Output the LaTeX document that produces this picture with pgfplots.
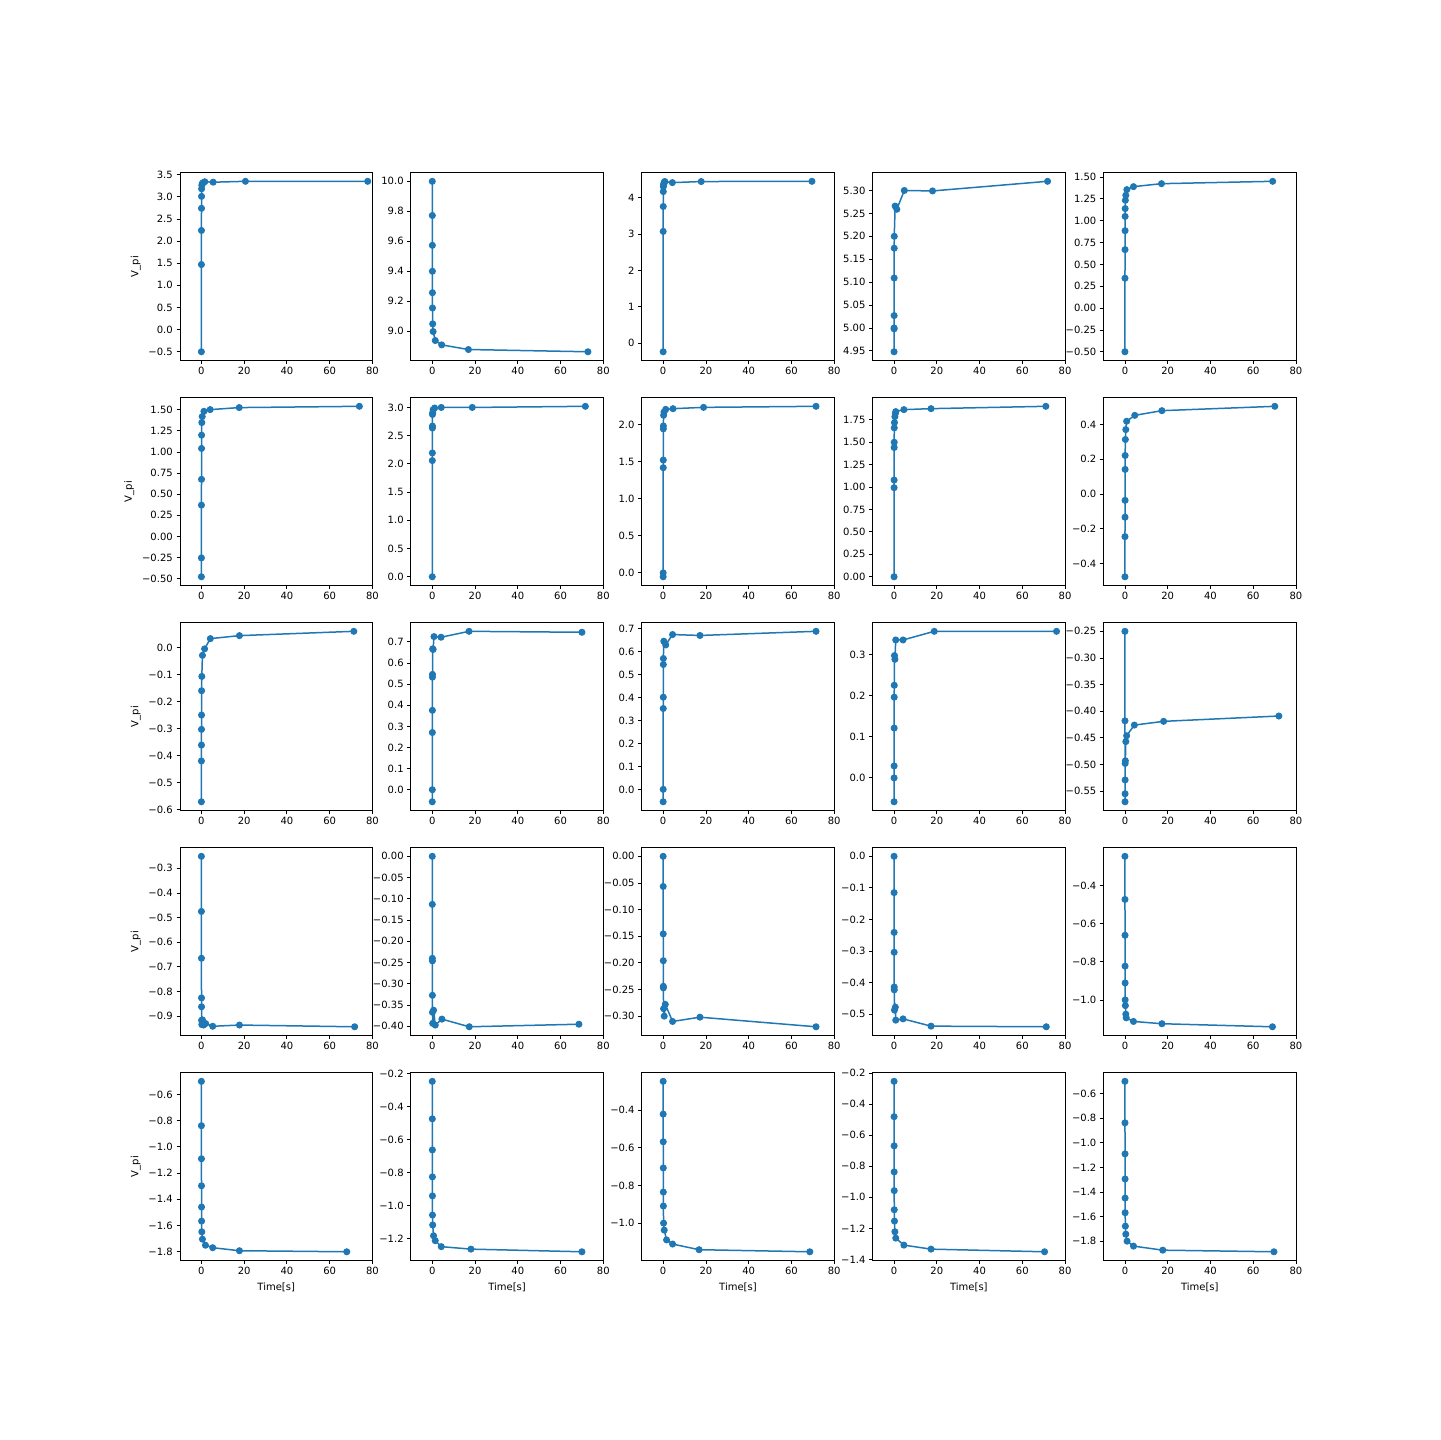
\documentclass[border=0pt]{standalone}
\usepackage{fontspec}
\setmainfont{DejaVu Sans}
\usepackage{pgfplots}
\pgfplotsset{compat=1.18}
\definecolor{c0}{RGB}{31,119,180}
\pgfplotsset{
  sub/.style={
    anchor=north west, scale only axis, width=138.54pt, height=135pt,
    xmin=-10, xmax=80, xtick={0,20,40,60,80}, xticklabels={0,20,40,60,80},
    enlarge y limits=0.05,
    axis line style={line width=0.576pt},
    every tick/.style={line width=0.576pt, black},
    tick align=outside, tick pos=left, major tick length=2.52pt,
    tick label style={font=\fontsize{7.2}{8.64}\selectfont, inner sep=2.5pt},
    label style={font=\fontsize{7.2}{8.64}\selectfont},
    ylabel style={inner sep=2.9pt},
    xlabel style={inner sep=2.9pt},
    /pgf/number format/assume math mode=true,
  },
}
\newcommand{\pan}[6]{%
  \begin{axis}[sub, at={(#1,#2)}, ytick={#3}, yticklabels={#4}, #5]
    \addplot[color=c0, line width=1.08pt, mark=*, mark size=2.16pt,
      mark options={solid, fill=c0, draw=c0, line width=0.72pt}] coordinates {#6};
  \end{axis}}
\begin{document}
\begin{tikzpicture}
\useasboundingbox (0,0) rectangle (1036.8pt,1036.8pt);
% Row 1
\pan{129.60pt}{912.38pt}{-0.5,0,0.5,1,1.5,2,2.5,3,3.5}{−0.5,0.0,0.5,1.0,1.5,2.0,2.5,3.0,3.5}{ylabel={V\_pi}}%
{(0,-0.50) (0.02,1.47) (0.04,2.24) (0.06,2.74) (0.08,3.01) (0.1,3.18) (0.2,3.26) (0.4,3.30) (0.8,3.32) (1.6,3.34) (5.5,3.33) (20.6,3.35) (77.8,3.35)}
\pan{295.84pt}{912.38pt}{9.0,9.2,9.4,9.6,9.8,10.0}{9.0,9.2,9.4,9.6,9.8,10.0}{}%
{(0,10.0) (0.02,9.772) (0.04,9.573) (0.06,9.40) (0.08,9.257) (0.1,9.155) (0.2,9.049) (0.4,8.998) (1.4,8.938) (4.4,8.909) (16.9,8.878) (72.8,8.863)}
\pan{462.08pt}{912.38pt}{0,1,2,3,4}{0,1,2,3,4}{}%
{(0,-0.237) (0.02,3.07) (0.04,3.754) (0.06,4.164) (0.1,4.30) (0.2,4.36) (0.4,4.40) (0.6,4.43) (0.8,4.44) (4.3,4.41) (17.8,4.44) (69.6,4.446)}
\pan{628.32pt}{912.38pt}{4.95,5.00,5.05,5.10,5.15,5.20,5.25,5.30}{4.95,5.00,5.05,5.10,5.15,5.20,5.25,5.30}{}%
{(0,4.948) (0.02,5.000) (0.03,4.998) (0.04,5.027) (0.06,5.109) (0.08,5.174) (0.1,5.200) (0.5,5.266) (1.3,5.259) (4.8,5.300) (18.0,5.299) (71.8,5.320)}
\pan{794.56pt}{912.38pt}{-0.5,-0.25,0,0.25,0.5,0.75,1,1.25,1.5}{−0.50,−0.25,0.00,0.25,0.50,0.75,1.00,1.25,1.50}{}%
{(0,-0.50) (0.02,0.342) (0.04,0.669) (0.06,0.886) (0.08,1.049) (0.1,1.139) (0.2,1.234) (0.4,1.291) (0.9,1.356) (4.0,1.39) (17.1,1.424) (69.1,1.451)}
% Row 2
\pan{129.60pt}{750.38pt}{-0.5,-0.25,0,0.25,0.5,0.75,1,1.25,1.5}{−0.50,−0.25,0.00,0.25,0.50,0.75,1.00,1.25,1.50}{ylabel={V\_pi}}%
{(0,-0.476) (0.02,-0.253) (0.04,0.371) (0.06,0.676) (0.08,1.041) (0.1,1.198) (0.2,1.347) (0.4,1.418) (1.2,1.48) (4.1,1.50) (17.7,1.524) (73.9,1.539)}
\pan{295.84pt}{750.38pt}{0,0.5,1,1.5,2,2.5,3}{0.0,0.5,1.0,1.5,2.0,2.5,3.0}{}%
{(0,0.0) (0.02,2.059) (0.04,2.194) (0.06,2.635) (0.08,2.67) (0.1,2.876) (0.2,2.906) (0.4,2.96) (1.1,2.99) (4.2,3.00) (18.7,3.00) (71.6,3.02)}
\pan{462.08pt}{750.38pt}{0,0.5,1,1.5,2}{0.0,0.5,1.0,1.5,2.0}{}%
{(0,-0.058) (0.02,-0.005) (0.04,1.417) (0.06,1.52) (0.08,1.942) (0.1,1.982) (0.2,2.126) (0.4,2.17) (1.2,2.206) (4.6,2.215) (18.9,2.233) (71.5,2.247)}
\pan{628.32pt}{750.38pt}{0,0.25,0.5,0.75,1,1.25,1.5,1.75}{0.00,0.25,0.50,0.75,1.00,1.25,1.50,1.75}{}%
{(0,0.0) (0.02,0.992) (0.04,1.077) (0.06,1.439) (0.08,1.498) (0.1,1.658) (0.2,1.717) (0.4,1.783) (0.6,1.817) (0.8,1.839) (4.6,1.861) (17.3,1.872) (71.0,1.898)}
\pan{794.56pt}{750.38pt}{-0.4,-0.2,0,0.2,0.4}{−0.4,−0.2,0.0,0.2,0.4}{}%
{(0,-0.476) (0.02,-0.245) (0.04,-0.133) (0.06,-0.036) (0.08,0.142) (0.1,0.222) (0.2,0.314) (0.4,0.371) (0.8,0.419) (4.6,0.453) (17.3,0.480) (70.1,0.505)}
% Row 3
\pan{129.60pt}{588.38pt}{-0.6,-0.5,-0.4,-0.3,-0.2,-0.1,0}{−0.6,−0.5,−0.4,−0.3,−0.2,−0.1,0.0}{ylabel={V\_pi}}%
{(0,-0.571) (0.02,-0.420) (0.04,-0.361) (0.06,-0.303) (0.08,-0.250) (0.1,-0.160) (0.2,-0.107) (0.5,-0.029) (1.5,-0.005) (4.2,0.033) (17.8,0.044) (71.3,0.060)}
\pan{295.84pt}{588.38pt}{0,0.1,0.2,0.3,0.4,0.5,0.6,0.7}{0.0,0.1,0.2,0.3,0.4,0.5,0.6,0.7}{}%
{(0,-0.057) (0.02,0.0) (0.04,0.271) (0.06,0.376) (0.08,0.533) (0.1,0.546) (0.2,0.667) (0.4,0.664) (0.8,0.725) (4.1,0.722) (17.2,0.750) (70.0,0.7455)}
\pan{462.08pt}{588.38pt}{0,0.1,0.2,0.3,0.4,0.5,0.6,0.7}{0.0,0.1,0.2,0.3,0.4,0.5,0.6,0.7}{}%
{(0,-0.052) (0.02,0.002) (0.04,0.353) (0.06,0.402) (0.08,0.544) (0.1,0.570) (0.3,0.645) (1.2,0.629) (4.4,0.674) (17.2,0.670) (71.5,0.688)}
\pan{628.32pt}{588.38pt}{0,0.1,0.2,0.3}{0.0,0.1,0.2,0.3}{}%
{(0,-0.058) (0.02,0.0) (0.04,0.029) (0.06,0.121) (0.08,0.196) (0.1,0.225) (0.2,0.297) (0.4,0.288) (0.8,0.335) (4.2,0.335) (18.8,0.356) (76.0,0.356)}
\pan{794.56pt}{588.38pt}{-0.55,-0.5,-0.45,-0.4,-0.35,-0.3,-0.25}{−0.55,−0.50,−0.45,−0.40,−0.35,−0.30,−0.25}{}%
{(0,-0.25) (0.02,-0.418) (0.04,-0.570) (0.06,-0.555) (0.08,-0.529) (0.1,-0.498) (0.2,-0.493) (0.4,-0.457) (0.8,-0.446) (4.4,-0.426) (18.1,-0.419) (72.0,-0.409)}
% Row 4
\pan{129.60pt}{426.38pt}{-0.9,-0.8,-0.7,-0.6,-0.5,-0.4,-0.3}{−0.9,−0.8,−0.7,−0.6,−0.5,−0.4,−0.3}{ylabel={V\_pi}}%
{(0,-0.2515) (0.02,-0.475) (0.04,-0.665) (0.06,-0.826) (0.08,-0.862) (0.1,-0.917) (0.2,-0.934) (0.5,-0.915) (1.0,-0.936) (2.0,-0.93) (5.3,-0.941) (17.8,-0.936) (71.7,-0.943)}
\pan{295.84pt}{426.38pt}{-0.4,-0.35,-0.3,-0.25,-0.2,-0.15,-0.1,-0.05,0}{−0.40,−0.35,−0.30,−0.25,−0.20,−0.15,−0.10,−0.05,0.00}{}%
{(0,0.0) (0.02,-0.113) (0.04,-0.240) (0.06,-0.246) (0.08,-0.327) (0.1,-0.367) (0.2,-0.393) (0.6,-0.362) (1.4,-0.397) (4.5,-0.383) (17.3,-0.401) (68.6,-0.395)}
\pan{462.08pt}{426.38pt}{-0.3,-0.25,-0.2,-0.15,-0.1,-0.05,0}{−0.30,−0.25,−0.20,−0.15,−0.10,−0.05,0.00}{}%
{(0,0.0) (0.02,-0.0566) (0.04,-0.1456) (0.06,-0.196) (0.08,-0.244) (0.1,-0.247) (0.2,-0.286) (0.5,-0.300) (1.0,-0.278) (4.4,-0.310) (17.2,-0.302) (71.5,-0.320)}
\pan{628.32pt}{426.38pt}{-0.5,-0.4,-0.3,-0.2,-0.1,0}{−0.5,−0.4,−0.3,−0.2,−0.1,0.0}{}%
{(0,0.0) (0.02,-0.115) (0.04,-0.241) (0.06,-0.304) (0.08,-0.414) (0.1,-0.423) (0.2,-0.487) (0.6,-0.478) (0.8,-0.519) (4.2,-0.515) (17.3,-0.538) (71.2,-0.540)}
\pan{794.56pt}{426.38pt}{-1.0,-0.8,-0.6,-0.4}{−1.0,−0.8,−0.6,−0.4}{}%
{(0,-0.247) (0.02,-0.473) (0.04,-0.661) (0.06,-0.823) (0.08,-0.911) (0.1,-1.0) (0.2,-1.030) (0.4,-1.075) (0.6,-1.094) (4.0,-1.113) (17.3,-1.125) (69.0,-1.141)}
% Row 5
\pan{129.60pt}{264.38pt}{-1.8,-1.6,-1.4,-1.2,-1.0,-0.8,-0.6}{−1.8,−1.6,−1.4,−1.2,−1.0,−0.8,−0.6}{ylabel={V\_pi}, xlabel={Time[s]}}%
{(0,-0.5006) (0.02,-0.839) (0.04,-1.091) (0.06,-1.297) (0.08,-1.459) (0.1,-1.566) (0.2,-1.648) (0.5,-1.704) (1.9,-1.750) (5.3,-1.769) (17.8,-1.792) (68.0,-1.80)}
\pan{295.84pt}{264.38pt}{-1.2,-1.0,-0.8,-0.6,-0.4,-0.2}{−1.2,−1.0,−0.8,−0.6,−0.4,−0.2}{xlabel={Time[s]}}%
{(0,-0.248) (0.02,-0.475) (0.04,-0.663) (0.06,-0.826) (0.08,-0.941) (0.1,-1.057) (0.2,-1.117) (0.6,-1.182) (1.4,-1.212) (4.2,-1.248) (18.1,-1.263) (70.0,-1.279)}
\pan{462.08pt}{264.38pt}{-1.2,-1.0,-0.8,-0.6,-0.4}{−1.2,−1.0,−0.8,−0.6,−0.4}{xlabel={Time[s]}}%
{(0,-0.247) (0.02,-0.421) (0.04,-0.568) (0.06,-0.707) (0.08,-0.835) (0.1,-0.909) (0.2,-1.0) (0.5,-1.037) (1.6,-1.089) (4.4,-1.111) (16.8,-1.141) (68.6,-1.152)}
\pan{628.32pt}{264.38pt}{-1.4,-1.2,-1.0,-0.8,-0.6,-0.4,-0.2}{−1.4,−1.2,−1.0,−0.8,−0.6,−0.4,−0.2}{xlabel={Time[s]}}%
{(0,-0.252) (0.02,-0.480) (0.04,-0.668) (0.06,-0.836) (0.08,-0.957) (0.1,-1.080) (0.2,-1.153) (0.4,-1.222) (0.8,-1.263) (4.6,-1.308) (17.3,-1.334) (70.4,-1.351)}
\pan{794.56pt}{264.38pt}{-1.8,-1.6,-1.4,-1.2,-1.0,-0.8,-0.6}{−1.8,−1.6,−1.4,−1.2,−1.0,−0.8,−0.6}{xlabel={Time[s]}}%
{(0,-0.502) (0.02,-0.839) (0.04,-1.091) (0.06,-1.295) (0.08,-1.450) (0.1,-1.569) (0.2,-1.678) (0.4,-1.743) (1.0,-1.80) (4.0,-1.84) (17.7,-1.873) (69.7,-1.886)}
\end{tikzpicture}
\end{document}
